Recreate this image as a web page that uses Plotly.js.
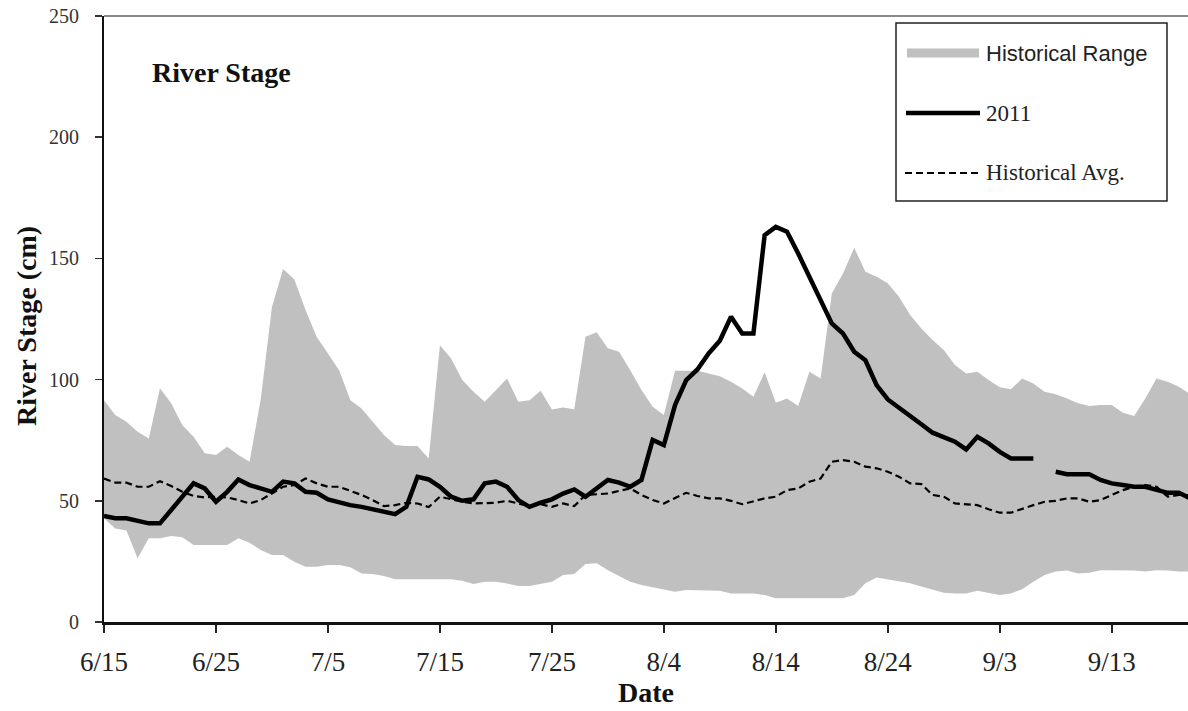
<!DOCTYPE html>
<html>
<head>
<meta charset="utf-8">
<script src="https://cdn.plot.ly/plotly-3.0.1.min.js"></script>
<style>
  html, body { margin: 0; padding: 0; background: #ffffff; }
  #chart { width: 1188px; height: 711px; }
</style>
</head>
<body>
<div id="chart"></div>
<script>
// Daily series starting 2011-06-15 (one value per day, 98 days)
const startDate = "2011-06-15";

const rangeLow = [
  42.8, 38.6, 37.7, 26.3, 34.5, 34.5, 35.5, 35.0, 31.8, 31.8,
  31.8, 31.8, 34.5, 32.7, 29.7, 27.6, 27.6, 24.9, 22.8, 22.8,
  23.5, 23.5, 22.6, 20.0, 19.8, 19.0, 17.6, 17.6, 17.6, 17.6,
  17.6, 17.6, 17.0, 15.7, 16.6, 16.6, 15.9, 14.8, 14.8, 15.7,
  16.6, 19.4, 19.8, 23.9, 24.2, 21.4, 19.0, 16.6, 15.3, 14.3,
  13.2, 12.5, 13.2, 13.2, 13.2, 12.9, 11.8, 11.8, 11.8, 11.1,
  9.8, 9.8, 9.8, 9.8, 9.8, 9.8, 9.8, 11.1, 16.0, 18.4,
  17.6, 16.6, 16.0, 14.6, 13.2, 12.1, 11.8, 11.8, 12.9, 12.1,
  11.1, 11.8, 13.5, 16.6, 19.4, 20.8, 21.2, 20.0, 20.3, 21.4,
  21.4, 21.4, 21.2, 20.8, 21.4, 21.2, 20.8, 20.8
];

const rangeHigh = [
  91.5, 85.4, 82.6, 78.5, 75.7, 96.4, 90.2, 81.2, 76.4, 69.6,
  68.9, 72.3, 68.9, 66.1, 92.0, 130.0, 145.6, 141.3, 128.7, 117.6,
  110.8, 103.9, 91.5, 88.1, 82.6, 77.1, 73.0, 72.6, 72.6, 67.5,
  114.2, 108.7, 99.8, 95.0, 90.9, 95.7, 100.5, 90.9, 91.5, 95.4,
  87.7, 88.5, 87.8, 117.7, 119.5, 112.9, 111.5, 103.9, 95.7, 88.8,
  85.4, 103.6, 103.6, 103.6, 102.5, 101.4, 99.1, 96.3, 92.9, 103.0,
  90.4, 92.2, 89.1, 103.2, 100.5, 135.5, 143.8, 154.4, 144.5, 142.4,
  139.7, 134.2, 126.6, 121.1, 116.3, 112.2, 106.0, 102.5, 103.2, 99.8,
  96.8, 96.0, 100.5, 98.4, 95.0, 94.0, 92.2, 90.2, 89.1, 89.5,
  89.5, 86.3, 85.0, 92.2, 100.5, 99.1, 97.0, 94.0
];

const stage2011 = [
  43.7, 42.8, 42.8, 41.8, 40.7, 40.7, 46.2, 51.0, 57.2, 55.1,
  49.6, 53.7, 58.8, 56.5, 55.1, 53.7, 57.9, 57.2, 53.7, 53.3,
  50.6, 49.2, 48.2, 47.5, 46.5, 45.5, 44.5, 47.5, 59.9, 58.8,
  55.8, 51.7, 50.0, 50.6, 57.2, 57.9, 55.8, 50.3, 47.5, 49.2,
  50.6, 53.0, 54.7, 51.7, 55.1, 58.6, 57.5, 55.8, 58.6, 75.1,
  73.0, 89.5, 99.8, 104.2, 110.8, 116.0, 125.9, 119.0, 119.0, 159.6,
  163.0, 161.0, 152.0, 142.4, 132.8, 123.2, 119.0, 111.5, 108.0, 97.7,
  91.8, 88.5, 85.4, 81.6, 78.1, 76.2, 74.4, 71.2, 76.4, 73.7,
  70.2, 67.5, 67.5, 67.5, null, 62.0, 61.0, 61.0, 61.0, 58.6,
  57.2, 56.5, 55.8, 55.8, 54.4, 53.3, 53.3, 51.0
];

const historicalAvg = [
  59.2, 57.5, 57.5, 55.8, 55.8, 58.1, 56.1, 53.7, 52.0, 51.4,
  51.7, 51.4, 50.3, 48.9, 50.3, 53.0, 55.8, 56.5, 59.2, 57.2,
  55.8, 55.8, 54.1, 52.4, 50.3, 47.8, 48.2, 49.2, 48.9, 47.4,
  51.7, 50.6, 49.6, 48.9, 48.9, 49.2, 50.0, 48.9, 47.8, 48.6,
  47.5, 48.9, 47.8, 52.4, 52.8, 53.0, 54.1, 55.1, 52.4, 50.3,
  48.9, 51.0, 53.3, 52.0, 51.0, 51.0, 50.0, 48.6, 49.8, 51.0,
  51.7, 54.4, 55.1, 57.9, 59.2, 66.1, 66.8, 66.1, 64.1, 63.4,
  62.0, 59.9, 57.2, 56.9, 52.4, 51.7, 48.9, 48.6, 48.2, 46.5,
  45.1, 45.1, 46.8, 48.2, 49.6, 50.0, 51.0, 51.0, 49.6, 50.3,
  52.4, 54.4, 55.8, 56.5, 55.8, 51.7, 52.4, 52.4
];

const tickDates = ["2011-06-15","2011-06-25","2011-07-05","2011-07-15","2011-07-25",
                   "2011-08-04","2011-08-14","2011-08-24","2011-09-03","2011-09-13"];
const tickLabels = ["6/15","6/25","7/5","7/15","7/25","8/4","8/14","8/24","9/3","9/13"];
const yTicks = [0, 50, 100, 150, 200, 250];

const legendNames = ["Historical Range", "2011", "Historical Avg."];
const chartTitle = "River Stage";
const xTitle = "Date";
const yTitle = "River Stage (cm)";

// Build the daily date categories
function buildDates(start, n) {
  const out = [];
  const d0 = new Date(start + "T00:00:00Z");
  for (let i = 0; i < n; i++) {
    const d = new Date(d0.getTime() + i * 86400000);
    out.push(d.toISOString().slice(0, 10));
  }
  return out;
}
const dates = buildDates(startDate, rangeHigh.length);

const SERIF = "Liberation Serif, Times New Roman, serif";
const SANS = "Liberation Sans, Arial, sans-serif";
const FILL = "#c0c0c0";

const traces = [
  { x: dates, y: rangeLow, type: "scatter", mode: "lines",
    line: { width: 0, color: FILL }, hoverinfo: "skip", showlegend: false },
  { x: dates, y: rangeHigh, type: "scatter", mode: "lines", fill: "tonexty",
    fillcolor: FILL, line: { width: 0, color: FILL }, name: legendNames[0], showlegend: false },
  { x: dates, y: historicalAvg, type: "scatter", mode: "lines",
    line: { color: "#000000", width: 2.2, dash: "7px,4px" }, name: legendNames[2], showlegend: false },
  { x: dates, y: stage2011, type: "scatter", mode: "lines", connectgaps: false,
    line: { color: "#000000", width: 4.5 }, name: legendNames[1], showlegend: false }
];

// plot geometry helpers (paper coords) for the boxed legend
const L = 104, R = 1188, T = 16, B = 622;
const px = v => (v - L) / (R - L);
const py = v => (B - v) / (B - T);

const shapes = [
  { type: "line", xref: "paper", yref: "paper", x0: 0, x1: 1, y0: 1, y1: 1,
    line: { color: "#8a8a8a", width: 2 } },
  { type: "rect", xref: "paper", yref: "paper", x0: px(896), x1: px(1167), y0: py(201), y1: py(23),
    line: { color: "#222222", width: 1.5 }, fillcolor: "#ffffff" },
  { type: "rect", xref: "paper", yref: "paper", x0: px(907), x1: px(979), y0: py(57.5), y1: py(48.5),
    line: { width: 0 }, fillcolor: FILL },
  { type: "line", xref: "paper", yref: "paper", x0: px(906), x1: px(980), y0: py(113), y1: py(113),
    line: { color: "#000000", width: 4.5 } },
  { type: "line", xref: "paper", yref: "paper", x0: px(905), x1: px(980), y0: py(173), y1: py(173),
    line: { color: "#000000", width: 2, dash: "7px,4px" } }
];

const annotations = [
  { xref: "paper", yref: "paper", x: px(984), y: py(53), xanchor: "left", yanchor: "middle",
    text: legendNames[0], showarrow: false, font: { family: SANS, size: 22, color: "#222222" } },
  { xref: "paper", yref: "paper", x: px(984), y: py(113), xanchor: "left", yanchor: "middle",
    text: legendNames[1], showarrow: false, font: { family: SERIF, size: 23, color: "#222222" } },
  { xref: "paper", yref: "paper", x: px(984), y: py(173), xanchor: "left", yanchor: "middle",
    text: legendNames[2], showarrow: false, font: { family: SERIF, size: 23, color: "#222222" } },
  { xref: "paper", yref: "paper", x: px(150), y: py(72), xanchor: "left", yanchor: "middle",
    text: "<b>" + chartTitle + "</b>", showarrow: false, font: { family: SERIF, size: 28, color: "#111111" } },
  { xref: "paper", yref: "paper", x: px(26), y: py(326), xanchor: "center", yanchor: "middle",
    textangle: -90, text: "<b>" + yTitle + "</b>", showarrow: false,
    font: { family: SERIF, size: 28, color: "#111111" } }
];

const layout = {
  width: 1188, height: 711,
  margin: { l: L, r: 1188 - R, t: T, b: 711 - B, pad: 0 },
  paper_bgcolor: "#ffffff", plot_bgcolor: "#ffffff",
  showlegend: false,
  font: { family: SERIF, color: "#222222" },
  xaxis: {
    type: "date",
    range: ["2011-06-15", "2011-09-19 19:30"],
    tickvals: tickDates, ticktext: tickLabels,
    ticks: "outside", ticklen: 8, tickwidth: 2, tickcolor: "#222222",
    showline: true, linecolor: "#111111", linewidth: 2.5,
    showgrid: false, zeroline: false,
    tickfont: { family: SERIF, size: 27, color: "#222222" },
    ticklabelstandoff: 6,
    title: { text: "<b>" + xTitle + "</b>", font: { family: SERIF, size: 28, color: "#111111" }, standoff: 4 },
    automargin: false, fixedrange: true
  },
  yaxis: {
    range: [0, 250],
    tickvals: yTicks,
    ticks: "outside", ticklen: 7, tickwidth: 1.5, tickcolor: "#333333",
    showline: true, linecolor: "#111111", linewidth: 2,
    showgrid: false, zeroline: false,
    tickfont: { family: SERIF, size: 20, color: "#333333" },
    ticklabelstandoff: 12,
    automargin: false, fixedrange: true
  },
  shapes: shapes,
  annotations: annotations
};

Plotly.newPlot("chart", traces, layout, { displayModeBar: false, staticPlot: true });
</script>
</body>
</html>
